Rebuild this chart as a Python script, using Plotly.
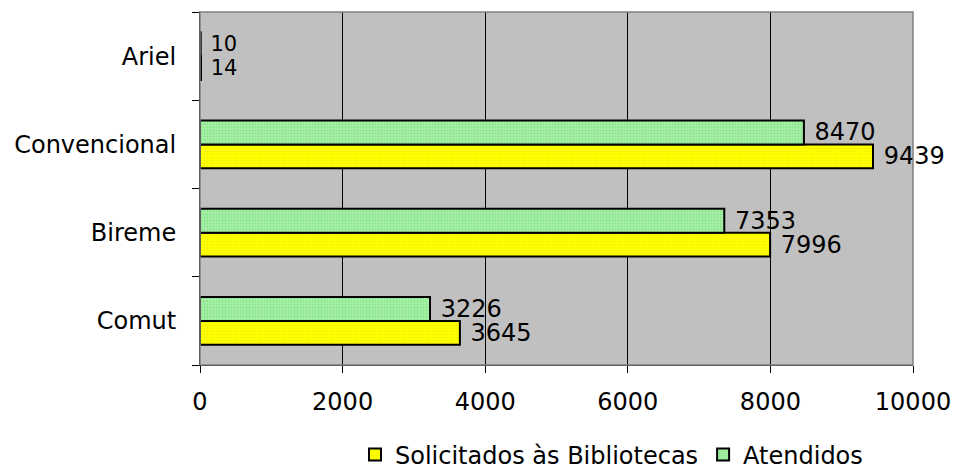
import plotly.graph_objects as go

categories = ["Comut", "Bireme", "Convencional", "Ariel"]
solicitados = [3645, 7996, 9439, 14]
atendidos = [3226, 7353, 8470, 10]
x_ticks = [0, 2000, 4000, 6000, 8000, 10000]

FONT = "DejaVu Sans"
FS = 24
label_sizes = [FS, FS, FS, 21]

W, H = 957, 474

fig = go.Figure()
fig.add_trace(go.Bar(
    y=categories, x=solicitados, orientation="h", name="Solicitados às Bibliotecas",
    marker=dict(color="#FFFF00", line=dict(color="black", width=2),
                pattern=dict(shape=".", fgcolor="#E8E800", bgcolor="#FFFF00", size=3, solidity=0.35)),
    text=[" " + str(v) for v in solicitados], textposition="outside", cliponaxis=False,
    constraintext="none",
    textfont=dict(size=label_sizes, color="black", family=FONT),
))
fig.add_trace(go.Bar(
    y=categories, x=atendidos, orientation="h", name="Atendidos",
    marker=dict(color="#99EE99", line=dict(color="black", width=2),
                pattern=dict(shape=".", fgcolor="#6FCF6F", bgcolor="#A6F0A6", size=3, solidity=0.35)),
    text=[" " + str(v) for v in atendidos], textposition="outside", cliponaxis=False,
    constraintext="none",
    textfont=dict(size=label_sizes, color="black", family=FONT),
))

fig.update_layout(
    width=W, height=H,
    margin=dict(l=200, r=44, t=12, b=109, autoexpand=False),
    paper_bgcolor="white", plot_bgcolor="#C0C0C0",
    barmode="group", bargap=0.46, bargroupgap=0,
    font=dict(family=FONT, size=FS, color="black"),
    showlegend=True,
    legend=dict(orientation="h", x=(355 - 200) / 713, xanchor="left", xref="paper",
                y=(H - 455) / H, yanchor="middle", yref="container",
                font=dict(size=FS, family=FONT), traceorder="normal", itemwidth=30,
                bgcolor="rgba(0,0,0,0)"),
    uniformtext=dict(mode=False),
)
fig.update_xaxes(
    range=[0, 10000], tickvals=x_ticks, ticktext=[str(v) for v in x_ticks],
    showgrid=True, gridcolor="black", gridwidth=1,
    showline=True, linecolor="black", linewidth=1,
    ticks="outside", ticklen=7, tickcolor="black", ticklabelstandoff=8,
    zeroline=False, tickfont=dict(size=FS), automargin=False,
)
fig.update_yaxes(
    categoryorder="array", categoryarray=categories,
    showgrid=False, showline=True, linecolor="black", linewidth=1,
    ticks="outside", ticklen=7, tickcolor="black", tickson="boundaries",
    ticklabelstandoff=18, tickfont=dict(size=FS), automargin=False,
)
fig.add_shape(type="rect", xref="paper", yref="paper", x0=0, x1=1, y0=0, y1=1,
              line=dict(color="#808080", width=1.5), layer="above")

fig.write_html("out.html", config={"displayModeBar": False},
               post_script="document.body.style.margin='0';document.body.style.overflow='hidden';")
